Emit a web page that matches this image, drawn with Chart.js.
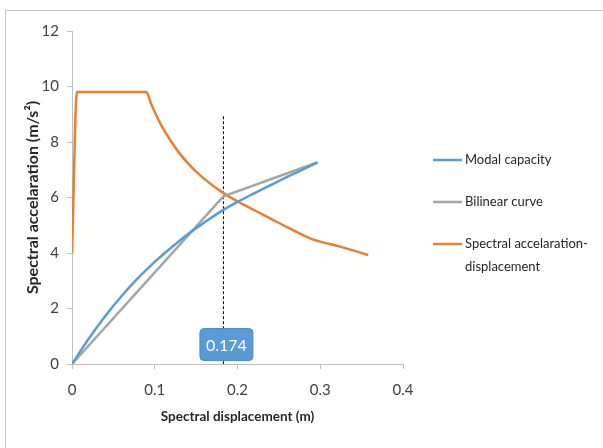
<!DOCTYPE html>
<html>
<head>
<meta charset="utf-8">
<script src="https://cdn.jsdelivr.net/npm/chart.js@4/dist/chart.umd.min.js"></script>
<style>
  html, body { margin: 0; padding: 0; background: #fff; }
  #wrap { position: relative; width: 603px; height: 448px; }
  #frame { position: absolute; left: 5px; top: 10px; right: 0; bottom: -2px;
           border-top: 1px solid #c4c4c4; border-left: 1px solid #c4c4c4; }
  canvas { position: absolute; left: 0; top: 0; }
</style>
</head>
<body>
<div id="wrap">
  <div id="frame"></div>
  <canvas id="grafico" width="603" height="448"></canvas>
</div>
<script>
// Modal capacity curve
const modalX = [0, 0.02, 0.04, 0.06, 0.08, 0.1, 0.12, 0.14, 0.16, 0.18, 0.2, 0.22, 0.24, 0.26, 0.28, 0.296];
const modalY = [0, 0.9, 1.72, 2.45, 3.1, 3.68, 4.2, 4.68, 5.1, 5.5, 5.84, 6.15, 6.45, 6.74, 7.02, 7.25];

// Bilinear curve
const bilinX = [0, 0.183, 0.297];
const bilinY = [0, 6.04, 7.27];

// Spectral acceleration-displacement (demand)
const demandX = [0, 0.006, 0.09, 0.095, 0.1, 0.105, 0.11, 0.12, 0.13, 0.14, 0.15, 0.16, 0.17, 0.18, 0.19, 0.2, 0.22, 0.24, 0.26, 0.29, 0.324, 0.358];
const demandY = [4.0, 9.8, 9.8, 9.42, 9.08, 8.77, 8.49, 8.01, 7.59, 7.24, 6.93, 6.67, 6.43, 6.22, 6.03, 5.86, 5.55, 5.24, 4.93, 4.5, 4.23, 3.93];

// performance point marker
const markerX = 0.183;
const markerTop = 8.93;
const markerText = '0.174';
const markerLabelY = 0.7;

const xTicks = [0, 0.1, 0.2, 0.3, 0.4];
const yTicks = [0, 2, 4, 6, 8, 10, 12];

const legendLabels = [['Modal capacity'], ['Bilinear curve'], ['Spectral accelaration-', 'displacement']];

const pts = (xs, ys) => xs.map((x, i) => ({ x: x, y: ys[i] }));

const FONT = 'Lato, "Open Sans", sans-serif';

const legendaPlugin = {
    id: 'legenda',
    afterDraw(chart) {
        const ctx = chart.ctx;
        ctx.save();
        ctx.font = '13px ' + FONT;
        ctx.textBaseline = 'middle';
        let y = 160;
        legendLabels.forEach((linhas, i) => {
            const ds = chart.data.datasets[i];
            ctx.strokeStyle = ds.borderColor;
            ctx.lineWidth = 2.5;
            ctx.beginPath();
            ctx.moveTo(433, y);
            ctx.lineTo(462, y);
            ctx.stroke();
            ctx.fillStyle = '#262626';
            linhas.forEach((t, j) => ctx.fillText(t, 465, y + j * 23));
            y += 42;
        });
        ctx.restore();
    }
};

const rotuloPlugin = {
    id: 'rotulo',
    afterDatasetsDraw(chart) {
        const ctx = chart.ctx;
        const px = chart.scales.x.getPixelForValue(markerX) + 3;
        const py = chart.scales.y.getPixelForValue(markerLabelY);
        const w = 53, h = 32;
        ctx.save();
        ctx.fillStyle = '#5b9bd5';
        ctx.strokeStyle = '#4a8ac4';
        ctx.lineWidth = 1;
        ctx.beginPath();
        ctx.roundRect(px - w / 2, py - h / 2, w, h, 4);
        ctx.fill();
        ctx.stroke();
        ctx.fillStyle = '#fff';
        ctx.font = '16px ' + FONT;
        ctx.textAlign = 'center';
        ctx.textBaseline = 'middle';
        ctx.fillText(markerText, px, py + 1);
        ctx.restore();
    }
};

new Chart(document.getElementById('grafico'), {
    type: 'line',
    data: {
        datasets: [
            {
                label: 'Modal capacity',
                data: pts(modalX, modalY),
                borderColor: '#5b9bd5',
                borderWidth: 2.5,
                pointRadius: 0,
                cubicInterpolationMode: 'monotone',
            },
            {
                label: 'Bilinear curve',
                data: pts(bilinX, bilinY),
                borderColor: '#a5a5a5',
                borderWidth: 2.5,
                pointRadius: 0,
            },
            {
                label: 'Spectral accelaration-displacement',
                data: pts(demandX, demandY),
                borderColor: '#ed7d31',
                borderWidth: 2.5,
                pointRadius: 0,
                cubicInterpolationMode: 'monotone',
            },
            {
                label: 'marker',
                data: [{ x: markerX, y: markerTop }, { x: markerX, y: 0 }],
                borderColor: '#000',
                borderWidth: 1,
                borderDash: [3, 2],
                pointRadius: 0,
            },
        ]
    },
    options: {
        responsive: false,
        animation: false,
        layout: { padding: { top: 31, right: 200, left: 0, bottom: 0 } },
        plugins: { legend: { display: false }, tooltip: { enabled: false } },
        scales: {
            x: {
                type: 'linear',
                min: 0, max: 0.4,
                afterFit: s => { s.height = 84; },
                afterBuildTicks: s => { s.ticks = xTicks.map(v => ({ value: v })); },
                ticks: { color: '#404040', font: { family: FONT, size: 15 }, padding: 12, callback: v => String(v) },
                grid: { drawOnChartArea: false, drawTicks: true, tickLength: 5, color: '#bfbfbf' },
                border: { color: '#bfbfbf', width: 1 },
                title: { display: true, text: 'Spectral displacement (m)', color: '#262626',
                         font: { family: FONT, size: 13.5, weight: 'bold' }, padding: { top: 0, bottom: 23 } },
            },
            y: {
                min: 0, max: 12,
                afterFit: s => { s.width = 72; },
                afterBuildTicks: s => { s.ticks = yTicks.map(v => ({ value: v })); },
                ticks: { color: '#404040', font: { family: FONT, size: 15 }, padding: 8 },
                grid: { drawOnChartArea: false, drawTicks: true, tickLength: 5, color: '#bfbfbf' },
                border: { color: '#bfbfbf', width: 1 },
                title: { display: true, text: 'Spectral accelaration (m/s²)', color: '#262626',
                         font: { family: FONT, size: 16, weight: 'bold' }, padding: { top: 23, bottom: 0 } },
            }
        }
    },
    plugins: [legendaPlugin, rotuloPlugin]
});
</script>
</body>
</html>
